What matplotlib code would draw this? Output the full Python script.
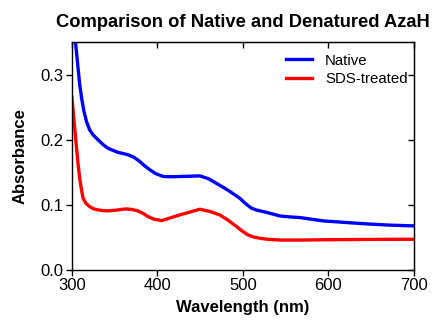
import matplotlib.pyplot as plt

plt.rcParams['font.family'] = ['Liberation Sans', 'DejaVu Sans']

# Native AzaH spectrum
native_wl = [304, 306.5, 309, 311.5, 314, 317, 320.7, 325, 330.4, 336, 342, 353, 365.5,
             372, 379, 385, 391, 398, 406.8, 416, 426, 438, 449.7, 460, 469, 477,
             484.8, 491, 496.5, 503, 510, 516, 523.8, 532, 543, 555, 567, 580,
             594, 620, 645, 670, 700]
native_abs = [0.351, 0.318, 0.285, 0.262, 0.2436, 0.228, 0.215, 0.207, 0.200, 0.193,
              0.187, 0.181, 0.177, 0.1735, 0.167, 0.160, 0.154, 0.148, 0.1436, 0.1432,
              0.1436, 0.144, 0.1446, 0.140, 0.133, 0.127, 0.1205, 0.115, 0.110, 0.102,
              0.0949, 0.092, 0.0897, 0.087, 0.083, 0.0815, 0.0805, 0.078, 0.0754,
              0.073, 0.0708, 0.069, 0.0677]

# SDS-treated spectrum
sds_wl = [300, 302.5, 305, 307, 309, 311, 313, 316.5, 320.7, 325, 330.4, 336, 342, 352,
          363, 370, 377, 383, 389, 396, 405, 415, 426, 438, 449.7, 461, 473, 483,
          492.6, 500, 506, 513, 520, 530, 543, 570, 600, 650, 700]
sds_abs = [0.264, 0.228, 0.192, 0.164, 0.141, 0.124, 0.110, 0.102, 0.0974, 0.094,
           0.0923, 0.0912, 0.0908, 0.092, 0.0938, 0.093, 0.0908, 0.087, 0.082, 0.078,
           0.0759, 0.080, 0.0846, 0.089, 0.0933, 0.090, 0.0846, 0.076, 0.0667, 0.059,
           0.0538, 0.0505, 0.0487, 0.047, 0.046, 0.046, 0.0465, 0.047, 0.0472]

fig = plt.figure(figsize=(4.35, 3.26), dpi=100)
ax = fig.add_axes([0.1655, 0.1718, 0.786, 0.699])

ax.plot(native_wl, native_abs, color='#0000ff', lw=2.4, label='Native',
        solid_joinstyle='round')
ax.plot(sds_wl, sds_abs, color='#ff0000', lw=2.4, label='SDS-treated',
        solid_joinstyle='round')

ax.set_xlim(300, 700)
ax.set_ylim(0, 0.35)
xticks = [300, 400, 500, 600, 700]
yticks = [0.0, 0.1, 0.2, 0.3]
ax.set_xticks(xticks)
ax.set_yticks(yticks)
ax.set_yticklabels(['0.0', '0.1', '0.2', '0.3'])
ax.tick_params(axis='both', direction='out', length=4, width=1, labelsize=12,
               colors='black', pad=2)
for s in ax.spines.values():
    s.set_linewidth(1)

# inward ticks on top and right
top = ax.secondary_xaxis('top')
top.set_xticks(xticks)
top.tick_params(direction='in', length=4, width=1, labeltop=False)
right = ax.secondary_yaxis('right')
right.set_yticks(yticks)
right.tick_params(direction='in', length=4, width=1, labelright=False)

ax.set_xlabel('Wavelength (nm)', fontsize=12, fontweight='bold', labelpad=5)
ax.set_ylabel('Absorbance', fontsize=12, fontweight='bold', labelpad=9)
ax.set_title('Comparison of Native and Denatured AzaH', fontsize=13.2,
             fontweight='bold', pad=11)

ax.legend(loc='upper left', bbox_to_anchor=(0.626, 0.95), frameon=False,
          fontsize=10.8, handlelength=1.75, handletextpad=0.85,
          labelspacing=0.3, borderpad=0, borderaxespad=0)

fig.savefig('out.png', dpi=100)
